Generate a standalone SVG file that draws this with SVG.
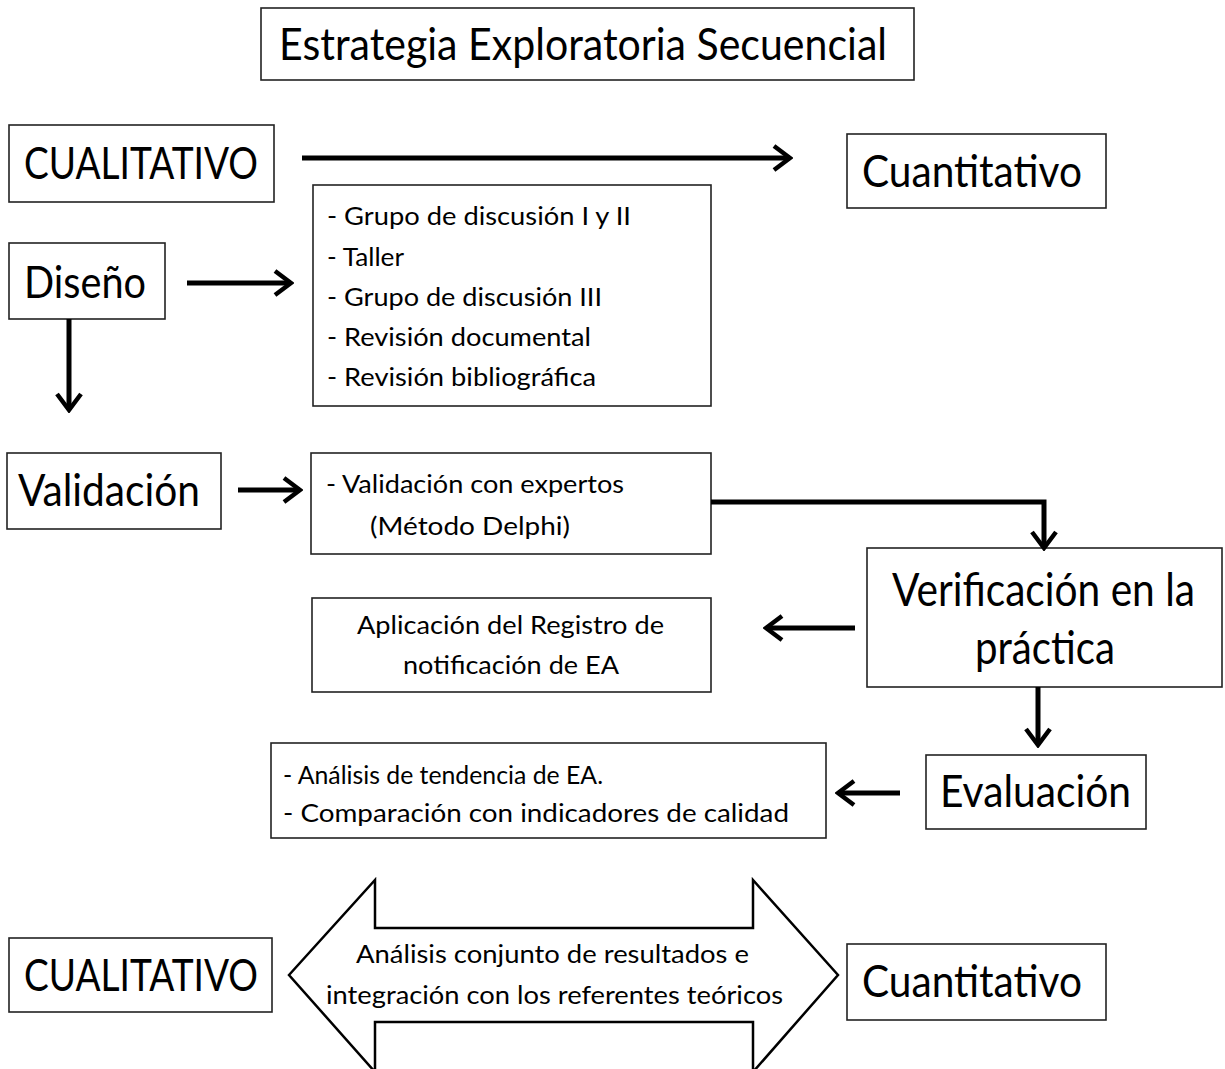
<svg xmlns="http://www.w3.org/2000/svg" width="1225" height="1069" viewBox="0 0 1225 1069">
<style>
.box{fill:#fff;stroke:#222;stroke-width:1.6}
.t{font-family:Lato,"Open Sans","Liberation Sans",sans-serif;fill:#000}
.big{font-size:44px}
.mid{font-size:25px}
.conn{fill:none;stroke:#000;stroke-width:5}
</style>
<defs>
<marker id="ah" viewBox="0 0 22 28" refX="19" refY="14" markerWidth="22" markerHeight="28" markerUnits="userSpaceOnUse" orient="auto">
<path d="M3,2 L19,14 L3,26" fill="none" stroke="#000" stroke-width="4.5"/>
</marker>
</defs>
<rect width="1225" height="1069" fill="#fff"/>

<g id="title">
<rect class="box" x="261" y="8" width="653" height="72"/>
<text class="t" x="279" y="60" font-size="44" textLength="608" lengthAdjust="spacingAndGlyphs">Estrategia Exploratoria Secuencial</text>
</g>

<g id="cualitativo-top">
<rect class="box" x="9" y="125" width="265" height="77"/>
<text class="t big" x="24" y="179" textLength="234" lengthAdjust="spacingAndGlyphs">CUALITATIVO</text>
</g>

<g id="cuantitativo-top">
<rect class="box" x="847" y="134" width="259" height="74"/>
<text class="t big" x="862" y="187" textLength="220" lengthAdjust="spacingAndGlyphs">Cuantitativo</text>
</g>

<g id="diseno">
<rect class="box" x="9" y="243" width="156" height="76"/>
<text class="t big" x="24" y="298" textLength="122" lengthAdjust="spacingAndGlyphs">Diseño</text>
</g>

<g id="lista-diseno">
<rect class="box" x="313" y="185" width="398" height="221"/>
<text class="t mid" x="327" y="225" textLength="304" lengthAdjust="spacingAndGlyphs">- Grupo de discusión I y II</text>
<text class="t mid" x="327" y="266" textLength="77" lengthAdjust="spacingAndGlyphs">- Taller</text>
<text class="t mid" x="327" y="306" textLength="275" lengthAdjust="spacingAndGlyphs">- Grupo de discusión III</text>
<text class="t mid" x="327" y="346" textLength="264" lengthAdjust="spacingAndGlyphs">- Revisión documental</text>
<text class="t mid" x="327" y="386" textLength="269" lengthAdjust="spacingAndGlyphs">- Revisión bibliográfica</text>
</g>

<g id="validacion">
<rect class="box" x="7" y="453" width="214" height="76"/>
<text class="t big" x="18" y="506" textLength="182" lengthAdjust="spacingAndGlyphs">Validación</text>
</g>

<g id="validacion-expertos">
<rect class="box" x="311" y="453" width="400" height="101"/>
<text class="t mid" x="326" y="493" textLength="298" lengthAdjust="spacingAndGlyphs">- Validación con expertos</text>
<text class="t mid" x="370" y="535" textLength="200" lengthAdjust="spacingAndGlyphs">(Método Delphi)</text>
</g>

<g id="verificacion">
<rect class="box" x="867" y="548" width="355" height="139"/>
<text class="t" x="892" y="606" font-size="47" textLength="303" lengthAdjust="spacingAndGlyphs">Verificación en la</text>
<text class="t" x="975" y="664" font-size="47" textLength="140" lengthAdjust="spacingAndGlyphs">práctica</text>
</g>

<g id="aplicacion">
<rect class="box" x="312" y="598" width="399" height="94"/>
<text class="t mid" x="357" y="634" textLength="307" lengthAdjust="spacingAndGlyphs">Aplicación del Registro de</text>
<text class="t mid" x="403" y="674" textLength="216" lengthAdjust="spacingAndGlyphs">notificación de EA</text>
</g>

<g id="evaluacion">
<rect class="box" x="926" y="755" width="220" height="74"/>
<text class="t big" x="940" y="807" textLength="191" lengthAdjust="spacingAndGlyphs">Evaluación</text>
</g>

<g id="analisis">
<rect class="box" x="271" y="743" width="555" height="95"/>
<text class="t mid" x="283" y="784" textLength="320" lengthAdjust="spacingAndGlyphs">-  Análisis de tendencia de EA.</text>
<text class="t mid" x="283" y="822" textLength="506" lengthAdjust="spacingAndGlyphs">-  Comparación con indicadores de calidad</text>
</g>

<g id="cualitativo-bottom">
<rect class="box" x="9" y="938" width="263" height="74"/>
<text class="t big" x="24" y="991" textLength="234" lengthAdjust="spacingAndGlyphs">CUALITATIVO</text>
</g>

<g id="cuantitativo-bottom">
<rect class="box" x="847" y="944" width="259" height="76"/>
<text class="t big" x="862" y="997" textLength="220" lengthAdjust="spacingAndGlyphs">Cuantitativo</text>
</g>

<g id="integracion">
<polygon points="289,975 375,880 375,928 753,928 753,880 838,975 753,1072 753,1022 375,1022 375,1072" fill="#fff" stroke="#000" stroke-width="2.5" stroke-linejoin="miter"/>
<text class="t mid" x="356" y="963" textLength="393" lengthAdjust="spacingAndGlyphs">Análisis conjunto de resultados e</text>
<text class="t mid" x="326" y="1004" textLength="457" lengthAdjust="spacingAndGlyphs">integración con los referentes  teóricos</text>
</g>

<g id="connectors">
<path class="conn" d="M302,158 H790" marker-end="url(#ah)"/>
<path class="conn" d="M187,283 H291" marker-end="url(#ah)"/>
<path class="conn" d="M69,319 V410" marker-end="url(#ah)"/>
<path class="conn" d="M238,490 H300" marker-end="url(#ah)"/>
<path class="conn" d="M711,502 H1044 V548" marker-end="url(#ah)"/>
<path class="conn" d="M855,628 H766" marker-end="url(#ah)"/>
<path class="conn" d="M1038,687 V745" marker-end="url(#ah)"/>
<path class="conn" d="M900,793 H838" marker-end="url(#ah)"/>
</g>
</svg>
